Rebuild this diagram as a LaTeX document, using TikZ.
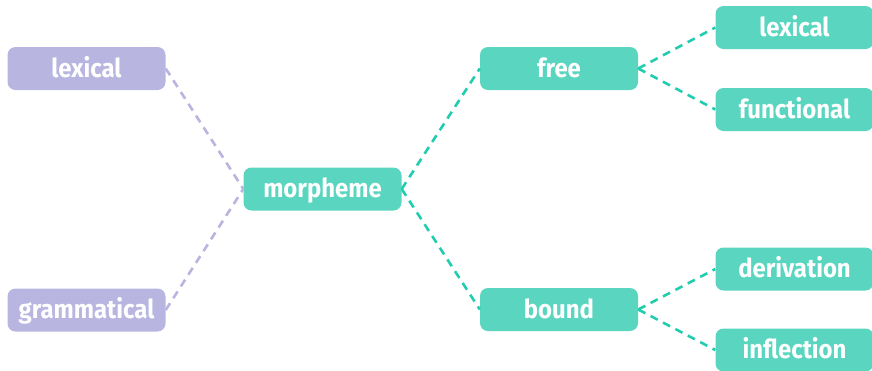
\documentclass[tikz,border=0pt]{standalone}
\usepackage{fontspec}
\setmainfont{Fira Sans}[UprightFont=* Bold, FakeStretch=0.92]
\definecolor{tealbox}{HTML}{5AD6C0}
\definecolor{tealline}{HTML}{22CCAE}
\definecolor{lilac}{HTML}{B8B5E1}
\begin{document}
\begin{tikzpicture}[x=1pt,y=-1pt,
  box/.style={rounded corners=8pt, minimum width=158pt, minimum height=43pt,
    inner sep=0pt, text height=19pt, text depth=2pt, text=white,
    font=\fontsize{26}{29}\selectfont},
  tbox/.style={box, fill=tealbox},
  pbox/.style={box, fill=lilac},
  tlink/.style={draw=tealline, line width=2.6pt, dash pattern=on 8pt off 6pt},
  plink/.style={draw=lilac, line width=2.6pt, dash pattern=on 8pt off 6pt}]
\useasboundingbox (0,0) rectangle (872,370);
\node[pbox] (lex) at (86.5,68.5) {lexical};
\node[pbox] (gram) at (86.5,310) {grammatical};
\node[tbox] (morph) at (322.5,189) {morpheme};
\node[tbox] (free) at (559,68.5) {free};
\node[tbox] (bound) at (559,309.5) {bound};
\node[tbox] (flex) at (794.5,27.5) {lexical};
\node[tbox] (ffun) at (794.5,109.5) {functional};
\node[tbox] (bder) at (794.5,269) {derivation};
\node[tbox] (binf) at (794.5,350) {inflection};
\draw[plink] (lex.east) -- (morph.west);
\draw[plink] (gram.east) -- (morph.west);
\draw[tlink] (morph.east) -- (free.west);
\draw[tlink] (morph.east) -- (bound.west);
\draw[tlink] (free.east) -- (flex.west);
\draw[tlink] (free.east) -- (ffun.west);
\draw[tlink] (bound.east) -- (bder.west);
\draw[tlink] (bound.east) -- (binf.west);
\end{tikzpicture}
\end{document}
